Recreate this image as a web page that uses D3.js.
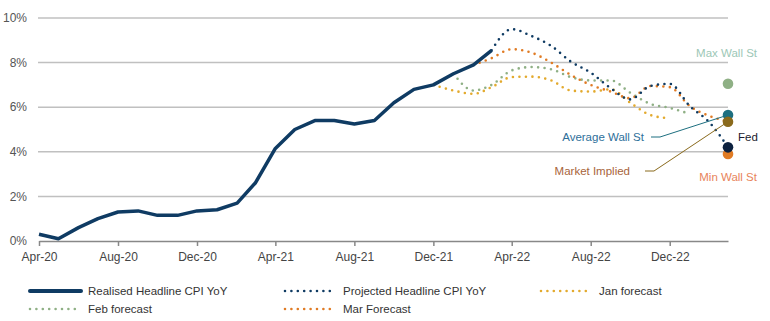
<!DOCTYPE html>
<html><head><meta charset="utf-8">
<script src="https://cdn.jsdelivr.net/npm/d3@7"></script>
<style>
body{margin:0;background:#fff;}
svg{display:block;font-family:"Liberation Sans",Arial,sans-serif;}
</style></head>
<body><svg id="c" width="770" height="321"></svg>
<script>
// ---- data ----
const startMonth = new Date(2020, 3, 1); // Apr-20
const realised = [0.3,0.1,0.6,1.0,1.3,1.35,1.15,1.15,1.35,1.4,1.7,2.6,4.15,5.0,5.4,5.4,5.25,5.4,6.2,6.8,7.0,7.5,7.9,8.55];
const realisedStart = 0;   // Apr-20
const projected = [8.55,9.5,9.2,8.75,8.05,7.55,6.85,6.35,6.95,7.05,6.05,5.3,4.2];
const projectedStart = 23; // Mar-22
const janForecast = [7.0,6.75,6.6,6.9,7.35,7.37,7.2,6.75,6.7,6.8,6.2,5.65,5.5];
const janStart = 20;       // Dec-21
const febForecast = [7.5,6.75,7.0,7.65,7.8,7.7,7.35,7.2,7.2,6.65,6.15,5.97,5.7];
const febStart = 21;       // Jan-22
const marForecast = [7.9,8.2,8.6,8.45,8.0,7.45,7.0,6.7,6.4,6.95,6.9,6.05,5.6,5.35];
const marStart = 22;       // Feb-22
const endNames = ["Max Wall St","Average Wall St","Market Implied","Min Wall St","Fed"];
const endValues = [7.05,5.65,5.35,3.9,4.2];
const endMonth = 35;       // Mar-23
const yTicks = [0,2,4,6,8,10];
const legendNames = ["Realised Headline CPI YoY","Projected Headline CPI YoY","Jan forecast","Feb forecast","Mar Forecast"];

// ---- styles ----
const C = {navy:"#0f3b63", orange:"#e07b24", green:"#8fb085", gold:"#e3aa2e",
  teal:"#1d6f80", olive:"#8a6a1c", fed:"#0d2240"};
const endColors = ["#8fb085", C.teal, C.olive, C.orange, C.fed];

const svg = d3.select("#c");
const m2d = i => d3.timeMonth.offset(startMonth, i);
const x = d3.scaleTime().domain([m2d(0), m2d(35)]).range([39, 728]);
const y = d3.scaleLinear().domain([0, 10]).range([241, 18]);

// grid
svg.append("g").selectAll("line").data(yTicks.filter(d => d > 0)).join("line")
  .attr("x1", 38).attr("x2", 728).attr("y1", d => y(d)).attr("y2", d => y(d))
  .attr("stroke", "#c0c0c0").attr("stroke-width", 1.5);

// y labels
svg.append("g").selectAll("text").data(yTicks).join("text")
  .attr("x", 27).attr("y", d => y(d)).attr("dy", "0.35em").attr("text-anchor", "end")
  .attr("font-size", 12).attr("fill", "#555").text(d => d + "%");

// x axis
const xAxis = d3.axisBottom(x).tickValues(d3.range(0, 36, 4).map(m2d))
  .tickFormat(d3.timeFormat("%b-%y")).tickSize(5).tickSizeOuter(0);
const gx = svg.append("g").attr("transform", "translate(0,241)").call(xAxis);
gx.select(".domain").attr("stroke", "#888").attr("stroke-width", 1.5);
gx.selectAll(".tick line").attr("stroke", "#888").attr("stroke-width", 1.5);
gx.selectAll(".tick text").attr("font-size", 12).attr("fill", "#444").attr("dy", "1.0em")
  .attr("font-family", "Liberation Sans, Arial, sans-serif");

function series(vals, start) { return vals.map((v, i) => [m2d(start + i), v]); }
const smooth = d3.line().x(d => x(d[0])).y(d => y(d[1])).curve(d3.curveMonotoneX);
const straight = d3.line().x(d => x(d[0])).y(d => y(d[1]));

function dotted(vals, start, col) {
  svg.append("path").attr("d", smooth(series(vals, start))).attr("fill", "none")
    .attr("stroke", col).attr("stroke-width", 2.6).attr("stroke-linecap", "round")
    .attr("stroke-dasharray", "0 6.5");
}
dotted(janForecast, janStart, C.gold);
dotted(febForecast, febStart, C.green);
dotted(marForecast, marStart, C.orange);
dotted(projected, projectedStart, C.navy);

svg.append("path").attr("d", straight(series(realised, realisedStart))).attr("fill", "none")
  .attr("stroke", C.navy).attr("stroke-width", 3.5).attr("stroke-linejoin", "round");

// leader lines
const xe = x(m2d(endMonth));
svg.append("polyline").attr("points", `651,137 660,137 ${xe},${y(endValues[1])}`)
  .attr("fill", "none").attr("stroke", C.teal).attr("stroke-width", 1);
svg.append("polyline").attr("points", `645,171 654,171 ${xe},${y(endValues[2])}`)
  .attr("fill", "none").attr("stroke", C.olive).attr("stroke-width", 1);

// end dots
svg.append("g").selectAll("circle").data(endValues).join("circle")
  .attr("cx", xe).attr("cy", d => y(d)).attr("r", 5.3).attr("fill", (d, i) => endColors[i]);

// annotations
const ann = [
  {t: endNames[0], x: 757, y: 53, a: "end", c: "#9cc7b6"},
  {t: endNames[1], x: 644, y: 137, a: "end", c: "#2e6f9a"},
  {t: endNames[4], x: 738, y: 137, a: "start", c: "#1b1b2e"},
  {t: endNames[2], x: 630, y: 171, a: "end", c: "#a8643a"},
  {t: endNames[3], x: 757, y: 177, a: "end", c: "#e8845a"}
];
svg.append("g").selectAll("text").data(ann).join("text")
  .attr("x", d => d.x).attr("y", d => d.y).attr("dy", "0.35em").attr("text-anchor", d => d.a)
  .attr("font-size", 11.5).attr("fill", d => d.c).text(d => d.t);

// legend
const leg = [
  {n: legendNames[0], c: C.navy, solid: true, x: 29, y: 291},
  {n: legendNames[1], c: C.navy, x: 284, y: 291},
  {n: legendNames[2], c: C.gold, x: 540, y: 291},
  {n: legendNames[3], c: C.green, x: 29, y: 309},
  {n: legendNames[4], c: C.orange, x: 284, y: 309}
];
const lg = svg.append("g").selectAll("g").data(leg).join("g");
lg.append("line").attr("x1", d => d.x + (d.solid ? 1 : 1)).attr("x2", d => d.x + 52)
  .attr("y1", d => d.y).attr("y2", d => d.y).attr("stroke", d => d.c)
  .attr("stroke-width", d => d.solid ? 4 : 2.6).attr("stroke-linecap", "round")
  .attr("stroke-dasharray", d => d.solid ? null : "0 6.4");
lg.append("text").attr("x", d => d.x + 59).attr("y", d => d.y).attr("dy", "0.35em")
  .attr("font-size", 11.5).attr("fill", "#333").text(d => d.n);
</script></body></html>
